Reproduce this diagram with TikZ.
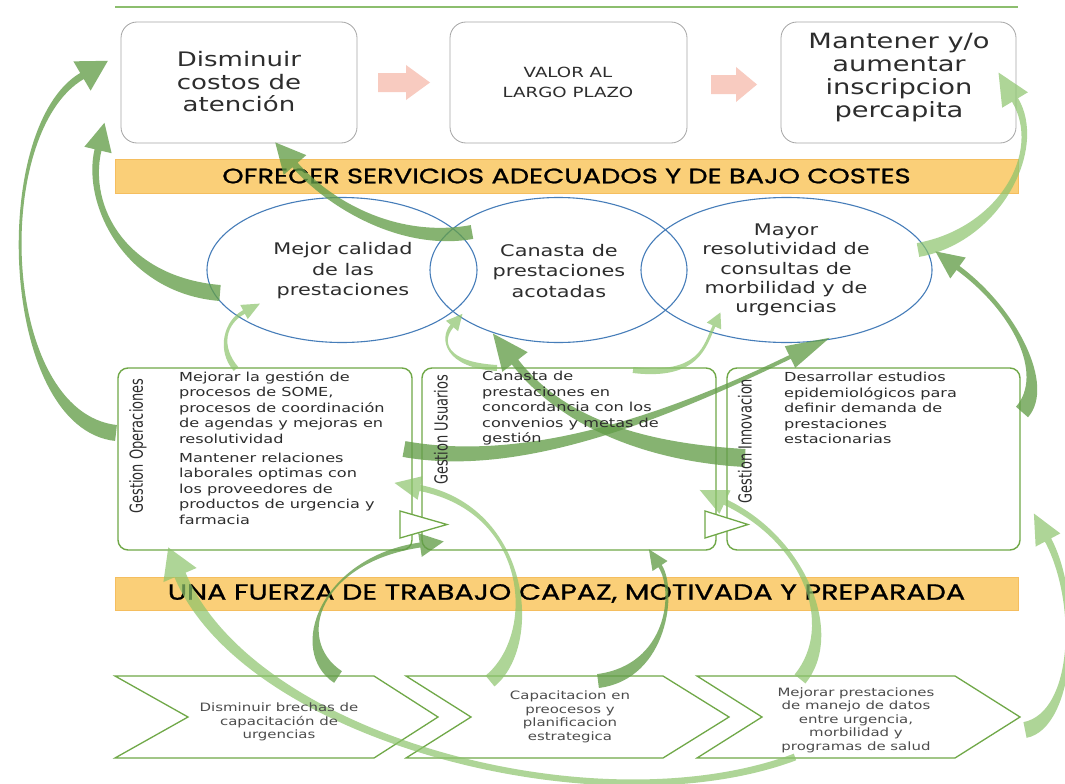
\documentclass[tikz,border=0pt]{standalone}
\usepackage{fontspec}
\setmainfont{DejaVu Sans}
\newfontfamily\hand{DejaVu Sans}[FakeStretch=1.3]
\newfontfamily\cond{DejaVu Sans}[FakeStretch=0.72]
\newfontfamily\bandf{Poppins}[FakeStretch=1.3,FakeBold=1]
\usetikzlibrary{calc,shapes.geometric}
\definecolor{gline}{RGB}{112,168,72}
\definecolor{topline}{RGB}{140,190,110}
\definecolor{boxgray}{RGB}{165,165,165}
\definecolor{bandfill}{RGB}{250,207,120}
\definecolor{banddraw}{RGB}{245,190,95}
\definecolor{ellblue}{RGB}{70,125,185}
\definecolor{pinkarr}{RGB}{248,203,192}
\definecolor{gdark}{RGB}{100,158,74}
\definecolor{glight}{RGB}{140,196,108}
\definecolor{txt}{RGB}{45,45,45}
% tapered curved arrow: style, tail, c1, c2, head base, tail half width, end half width, head half width, head length
\newcommand\garr[9]{%
  \coordinate (gS) at #2; \coordinate (gA) at #3; \coordinate (gB) at #4; \coordinate (gE) at #5;
  \coordinate (gSL) at ($(gS)!#6pt!90:(gA)$);
  \coordinate (gSR) at ($(gS)!#6pt!-90:(gA)$);
  \coordinate (gEL) at ($(gE)!#7pt!-90:(gB)$);
  \coordinate (gER) at ($(gE)!#7pt!90:(gB)$);
  \coordinate (gHL) at ($(gE)!#8pt!-90:(gB)$);
  \coordinate (gHR) at ($(gE)!#8pt!90:(gB)$);
  \coordinate (gT) at ($(gE)!#9pt!180:(gB)$);
  \fill[#1] (gSL) .. controls ($(gA)+(gSL)-(gS)$) and ($(gB)+(gEL)-(gE)$) .. (gEL)
    -- (gHL) -- (gT) -- (gHR) -- (gER)
    .. controls ($(gB)+(gER)-(gE)$) and ($(gA)+(gSR)-(gS)$) .. (gSR) -- cycle;
}
\begin{document}
\begin{tikzpicture}[x=1pt,y=-1pt,
  topbox/.style={draw=boxgray, line width=0.8pt, rounded corners=16pt, fill=white, minimum height=121pt, inner sep=0pt},
  toptext/.style={align=center, text=txt, font=\hand\fontsize{20}{22.5}\selectfont, inner sep=0pt},
  bandbox/.style={draw=banddraw, fill=bandfill, line width=0.8pt, minimum width=903pt, inner sep=0pt, font=\bandf\fontsize{21}{24}\selectfont, text=black},
  ell/.style={draw=ellblue, line width=1.1pt, ellipse, inner sep=0pt},
  elltext/.style={align=center, text=txt, font=\hand\fontsize{16}{20.5}\selectfont, inner sep=0pt},
  gbox/.style={draw=gline, line width=1.4pt, rounded corners=10pt, fill=white, minimum width=294pt, minimum height=182pt, inner sep=0pt},
  gtext/.style={align=left, anchor=north west, text=txt, font=\hand\fontsize{12.4}{15.5}\selectfont, inner sep=0pt},
  vtext/.style={rotate=90, text=txt, font=\cond\fontsize{18}{20}\selectfont, inner sep=0pt},
  chev/.style={draw=gline, line width=1.3pt, fill=white, line join=miter},
  chtext/.style={align=center, text=txt!85, font=\hand\fontsize{11.5}{13.8}\selectfont, inner sep=0pt},
  tri/.style={draw=gline, line width=1.3pt, fill=white},
  darr/.style={fill=gdark, fill opacity=0.78},
  larr/.style={fill=glight, fill opacity=0.7}
]
\useasboundingbox (0,0) rectangle (1065,784);
\fill[white] (0,0) rectangle (1065,784);

% top line
\coordinate (la) at (115,7); \coordinate (lb) at (1018,7);
\draw[topline, line width=1.2pt] (la) -- (lb);

% top boxes
\node[topbox, minimum width=236pt] (b1) at (239,82.5) {};
\node[topbox, minimum width=237pt] (b2) at (568.5,82.5) {};
\node[topbox, minimum width=235pt] (b3) at (898.5,82.5) {};

% pink arrows
\fill[pinkarr] (378,73) -- (406,73) -- (406,65) -- (430,82.5) -- (406,100) -- (406,92) -- (378,92) -- cycle;
\fill[pinkarr] (711,75) -- (736,75) -- (736,67) -- (757,84.5) -- (736,102) -- (736,94) -- (711,94) -- cycle;

% band 1
\node[bandbox, minimum height=34pt] (band1) at (566.5,176) {OFRECER SERVICIOS ADECUADOS Y DE BAJO COSTES};

% ellipses
\node[ell, minimum width=270pt, minimum height=145pt] (e1) at (342,270) {};
\node[ell, minimum width=257pt, minimum height=145pt] (e2) at (558.5,270) {};
\node[ell, minimum width=291pt, minimum height=145pt] (e3) at (786.5,270) {};

% gestion boxes
\node[gbox] (gA) at (265,459) {};
\node[gbox] (gB) at (569,459) {};
\node[gbox, minimum width=293pt] (gC) at (873.5,459) {};
\coordinate (t1a) at (400,511); \coordinate (t1b) at (400,538); \coordinate (t1c) at (447,524.5);
\coordinate (t2a) at (705,511); \coordinate (t2b) at (705,538); \coordinate (t2c) at (748,524.5);
\draw[tri] (t1a) -- (t1c) -- (t1b) -- cycle;
\draw[tri] (t2a) -- (t2c) -- (t2b) -- cycle;

% band 2
\node[bandbox, minimum height=33pt, font=\bandf\fontsize{22}{24}\selectfont] (band2) at (566.5,593.5) {UNA FUERZA DE TRABAJO CAPAZ, MOTIVADA Y PREPARADA};

% chevrons
\draw[chev] (115,676) -- (374,676) -- (438,717) -- (374,758) -- (115,758) -- (188,717) -- cycle;
\draw[chev] (406,676) -- (663,676) -- (729,717) -- (663,758) -- (406,758) -- (471,717) -- cycle;
\draw[chev] (697,676) -- (955,676) -- (1020,717) -- (955,758) -- (697,758) -- (762,717) -- cycle;

% green curved arrows
\garr{darr}{(116,433)}{(0,420)}{(-10,130)}{(82,76)}{8}{3.5}{17}{30}
\garr{darr}{(220,293)}{(125,285)}{(85,205)}{(98,150)}{8}{3.5}{14}{28}
\garr{darr}{(472,232)}{(400,245)}{(330,205)}{(295,165)}{7}{3.5}{15}{30}
\garr{larr}{(918,250)}{(1000,235)}{(1045,150)}{(1015,100)}{7}{3.5}{15}{32}
\garr{darr}{(1022,412)}{(1050,380)}{(1015,310)}{(958,268)}{8}{2.5}{13}{28}
\garr{larr}{(1025,730)}{(1075,720)}{(1080,600)}{(1048,540)}{8}{3.5}{14}{30}
\garr{larr}{(236,369)}{(218,348)}{(225,322)}{(244,312)}{3}{2}{8}{18}
\garr{larr}{(497,368)}{(445,365)}{(440,340)}{(452,326)}{3}{2}{8}{16}
\garr{larr}{(633,370)}{(700,378)}{(705,345)}{(714,326)}{3}{1.5}{8}{15}
\garr{darr}{(404,449)}{(520,470)}{(660,420)}{(790,357)}{8}{2}{12}{44}
\garr{darr}{(745,458)}{(640,452)}{(560,420)}{(515,362)}{9}{4}{16}{36}
\garr{larr}{(795,757)}{(600,830)}{(250,740)}{(180,575)}{3.5}{6}{18}{30}
\garr{darr}{(338,677)}{(290,645)}{(320,560)}{(420,545)}{7}{2.5}{12}{24}
\garr{larr}{(490,681)}{(540,640)}{(530,510)}{(420,488)}{7}{3}{12}{26}
\garr{darr}{(598,681)}{(668,672)}{(676,590)}{(660,566)}{7}{2}{9}{20}
\garr{larr}{(800,679)}{(840,630)}{(805,540)}{(725,502)}{7}{3}{13}{28}

% texts
\node[toptext] (t1) at (239,82) {Disminuir\\costos de\\atención};
\node[toptext, font=\hand\fontsize{14}{20}\selectfont] (t2) at (568,82) {VALOR AL\\LARGO PLAZO};
\node[toptext, font=\hand\fontsize{21}{23}\selectfont] (t3) at (899,78) {Mantener y/o\\aumentar\\inscripcion\\percapita};

\node[elltext] (e1t) at (343,271) {Mejor calidad\\de las\\prestaciones};
\node[elltext] (e2t) at (559,271) {Canasta de\\prestaciones\\acotadas};
\node[elltext, font=\hand\fontsize{16}{19.2}\selectfont] (e3t) at (786,270) {Mayor\\resolutividad de\\consultas de\\morbilidad y de\\urgencias};

\node[vtext] (vA) at (138,446) {Gestion Operaciones};
\node[vtext] (vB) at (441,430) {Gestion Usuarios};
\node[vtext] (vC) at (745,441) {Gestion Innovacion};

\node[gtext] (gAt) at (179,371) {Mejorar la gestión de\\procesos de SOME,\\procesos de coordinación\\de agendas y mejoras en\\resolutividad\\[3.5pt]Mantener relaciones\\laborales optimas con\\los proveedores de\\productos de urgencia y\\farmacia};
\node[gtext] (gBt) at (482,371) {Canasta de\\prestaciones en\\concordancia con los\\convenios y metas de\\gestión};
\node[gtext] (gCt) at (784,372) {Desarrollar estudios\\epidemiológicos para\\definir demanda de\\prestaciones\\estacionarias};

\node[chtext] (c1t) at (279,722) {Disminuir brechas de\\capacitación de\\urgencias};
\node[chtext, font=\hand\fontsize{11.5}{13.5}\selectfont] (c2t) at (570,717) {Capacitacion en\\preocesos y\\planificacion\\estrategica};
\node[chtext, font=\hand\fontsize{11.5}{13.5}\selectfont] (c3t) at (856,720) {Mejorar prestaciones\\de manejo de datos\\entre urgencia,\\morbilidad y\\programas de salud};
\end{tikzpicture}
\end{document}
